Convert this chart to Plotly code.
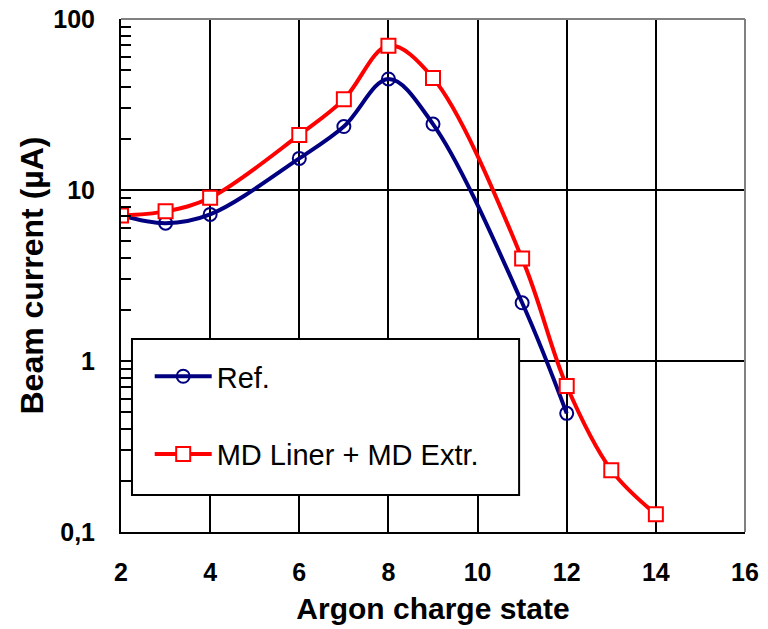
import plotly.graph_objects as go

ref_x = [2, 3, 4, 6, 7, 8, 9, 11, 12]
ref_y = [7.1, 6.4, 7.2, 15.3, 23.5, 44.6, 24.3, 2.19, 0.494]
md_x = [2, 3, 4, 6, 7, 8, 9, 11, 12, 13, 14]
md_y = [7.1, 7.5, 9.0, 21.0, 33.9, 69.8, 45.2, 3.97, 0.714, 0.23, 0.127]

x_ticks = [2, 4, 6, 8, 10, 12, 14, 16]
y_ticks = [0.1, 1, 10, 100]
y_ticktext = ["0,1", "1", "10", "100"]

FONT = "Arial, Liberation Sans, sans-serif"

fig = go.Figure()
fig.add_trace(go.Scatter(
    x=ref_x, y=ref_y, name="Ref.", mode="lines+markers", legendgroup="a",
    line=dict(color="#000080", width=4, shape="spline", smoothing=1.0),
    marker=dict(symbol="circle-open", size=13, color="#000080", line=dict(width=2, color="#000080")),
))
fig.add_trace(go.Scatter(
    x=md_x, y=md_y, name="MD Liner + MD Extr.", mode="lines+markers", legendgroup="b",
    line=dict(color="#FF0000", width=4, shape="spline", smoothing=1.0),
    marker=dict(symbol="square", size=14, color="white", line=dict(width=2, color="#FF0000")),
))

minor_vals = []
for d in [0.1, 1, 10]:
    for k in range(2, 10):
        minor_vals.append(d * k)

fig.update_layout(
    width=768, height=629,
    margin=dict(l=121, r=23, t=19, b=97),
    paper_bgcolor="white", plot_bgcolor="white",
    font=dict(family=FONT, color="black"),
    showlegend=True,
    legend=dict(
        x=0.046, y=0.353, xanchor="left", yanchor="top",
        bgcolor="rgba(0,0,0,0)", borderwidth=0,
        font=dict(size=29, family=FONT),
        tracegroupgap=37, itemwidth=57,
    ),
)
fig.update_xaxes(
    range=[2, 16], tickvals=x_ticks, ticktext=[str(v) for v in x_ticks],
    showgrid=True, gridcolor="black", gridwidth=2,
    showline=True, linecolor="black", linewidth=2, ticks="",
    tickfont=dict(size=25, family=FONT, weight="bold"),
    ticklabelstandoff=17, automargin=False, ticklabeloverflow="allow",
    title=dict(text="<b>Argon charge state</b>", font=dict(size=30, family=FONT), standoff=13),
    zeroline=False,
)
fig.update_yaxes(
    type="log", range=[-1, 2], tickvals=y_ticks, ticktext=y_ticktext,
    showgrid=True, gridcolor="black", gridwidth=2,
    showline=True, linecolor="black", linewidth=2,
    ticks="inside", ticklen=10, tickwidth=2, tickcolor="black",
    minor=dict(tickvals=minor_vals, ticks="inside", ticklen=10, tickwidth=2, tickcolor="black", showgrid=False),
    tickfont=dict(size=25, family=FONT, weight="bold"),
    ticklabelstandoff=19, automargin=False, ticklabeloverflow="allow",
    title=dict(text="<b>Beam current (µA)</b>", font=dict(size=32, family=FONT), standoff=0),
    zeroline=False,
)
# gray top/right frame
fig.add_shape(type="line", xref="x domain", yref="y domain", x0=0, x1=1, y0=1, y1=1,
              line=dict(color="#808080", width=2))
fig.add_shape(type="line", xref="x domain", yref="y domain", x0=1, x1=1, y0=0, y1=1,
              line=dict(color="#808080", width=2))
# legend frame
fig.add_shape(type="rect", xref="paper", yref="paper", x0=0.0176, x1=0.638, y0=0.072, y1=0.376,
              line=dict(color="black", width=2), fillcolor="white", layer="above")

# remove the page's default 8px body margin so the figure fills the window
fig.write_html("out.html", config={"displayModeBar": False},
               post_script="document.body.style.margin='0';")
